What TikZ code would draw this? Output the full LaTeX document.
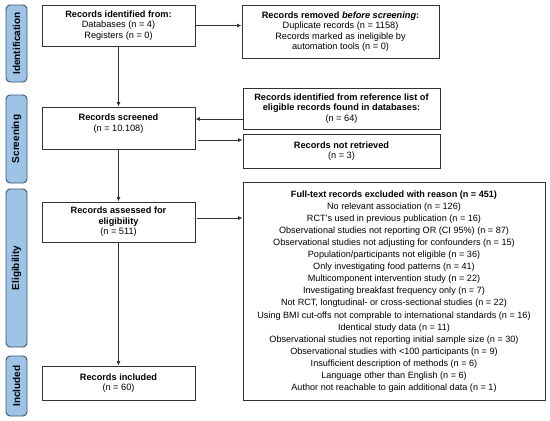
\documentclass[tikz,border=0pt]{standalone}
\usepackage{fontspec}
\setmainfont{Liberation Sans}
\usetikzlibrary{positioning,calc,arrows.meta}

\definecolor{phaseblue}{RGB}{157,195,230}
\definecolor{phaseline}{RGB}{62,82,104}
\definecolor{linegray}{RGB}{50,50,50}

\tikzset{
  recbox/.style={draw=linegray, line width=0.9pt, fill=white, align=center, inner sep=0pt, font=\fontsize{9.2}{10.4}\selectfont},
  phase/.style={draw=phaseline, line width=0.9pt, fill=phaseblue, rounded corners=4pt, minimum height=21pt, inner sep=0pt, rotate=90, font=\fontsize{10}{12}\selectfont\bfseries},
  flow/.style={-{Latex[length=4.5pt,width=4pt]}, draw=linegray, line width=0.9pt}
}

\begin{document}
\begin{tikzpicture}[x=1pt, y=-1pt]
        \useasboundingbox (0,0) rectangle (550,421);
        % phases
        \node[phase, minimum width=77pt] (pident) at (16.5,43.5) {Identification};
        \node[phase, minimum width=88pt] (pscreen) at (16.5,139) {Screening};
        \node[phase, minimum width=158pt] (pelig) at (16.5,268) {Eligibility};
        \node[phase, minimum width=60pt] (pincl) at (16.5,386) {Included};
        % main column
        \node[recbox, minimum width=153pt, minimum height=41pt] (ident) at (118.5,25.5) {\textbf{Records identified from:}\\Databases (n = 4)\\Registers (n = 0)};
        \node[recbox, minimum width=153pt, minimum height=42pt] (screened) at (118.5,128) {\textbf{Records screened}\\(n = 10.108)\\\mbox{}};
        \node[recbox, minimum width=153pt, minimum height=40pt] (assessed) at (118.5,222) {\textbf{Records assessed for}\\\textbf{eligibility}\\(n = 511)};
        \node[recbox, minimum width=153pt, minimum height=34pt] (included) at (118.5,383) {\textbf{Records included}\\(n = 60)};
        % side column
        \node[recbox, minimum width=197pt, minimum height=53pt] (removed) at (340.5,31.5) {\textbf{Records removed \textit{before screening}:}\\Duplicate records (n = 1158)\\Records marked as ineligible by\\automation tools (n = 0)};
        \node[recbox, minimum width=197pt, minimum height=41pt] (reflist) at (341.5,108.5) {\textbf{Records identified from reference list of}\\\textbf{eligible records found in databases:}\\(n = 64)};
        \node[recbox, minimum width=197pt, minimum height=34pt] (notret) at (341.5,151) {\textbf{Records not retrieved}\\(n = 3)};
        \node[recbox, minimum width=302pt, minimum height=218pt, font=\fontsize{9.1}{12.1}\selectfont] (fulltext) at (394,291.5) {\textbf{Full-text records excluded with reason (n = 451)}\\
          No relevant association (n = 126)\\
          RCT's used in previous publication (n = 16)\\
          Observational studies not reporting OR (CI 95\%) (n = 87)\\
          Observational studies not adjusting for confounders (n = 15)\\
          Population/participants not eligible (n = 36)\\
          Only investigating food patterns (n = 41)\\
          Multicomponent intervention study (n = 22)\\
          Investigating breakfast frequency only (n = 7)\\
          Not RCT, longtudinal- or cross-sectional studies (n = 22)\\
          Using BMI cut-offs not comprable to international standards (n = 16)\\
          Identical study data (n = 11)\\
          Observational studies not reporting initial sample size (n = 30)\\
          Observational studies with <100 participants (n = 9)\\
          Insufficient description of methods (n = 6)\\
          Language other than English (n = 6)\\
          Author not reachable to gain additional data (n = 1)};
        % arrows
        \draw[flow] (ident) -- (screened);
        \draw[flow] (screened) -- (assessed);
        \draw[flow] (assessed) -- (included);
        \draw[flow] (ident.east) -- (ident.east -| removed.west);
        \draw[flow] ([yshift=-10.5pt]reflist.west) -- ([yshift=-10.5pt]reflist.west -| screened.east);
        \draw[flow] ([yshift=-12pt, xshift=3pt]screened.east) -- ([yshift=-12pt]screened.east -| notret.west);
        \draw[flow] ([yshift=4pt, xshift=2pt]assessed.east) -- ([yshift=4pt]assessed.east -| fulltext.west);
\end{tikzpicture}
\end{document}
